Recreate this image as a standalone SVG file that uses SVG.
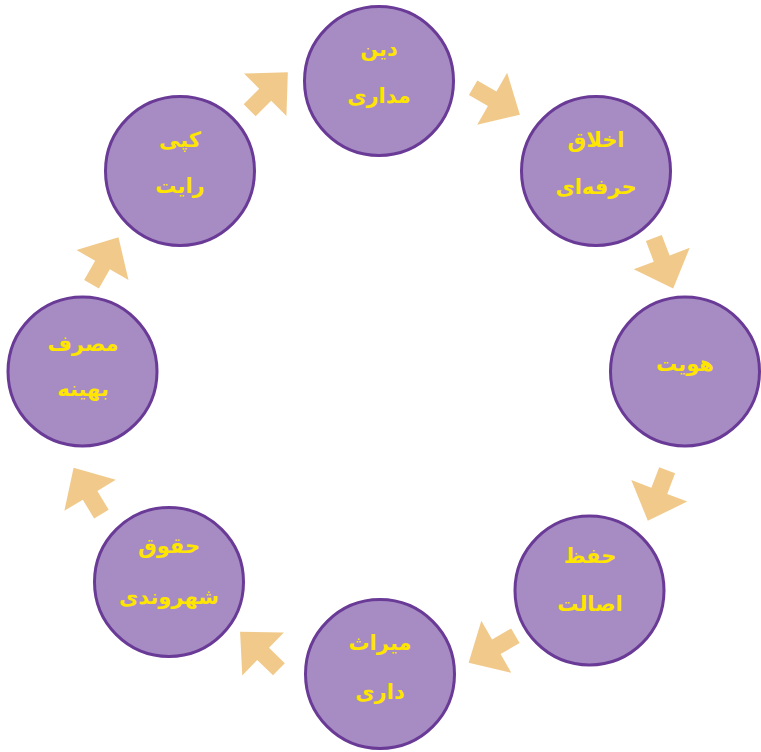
<svg xmlns="http://www.w3.org/2000/svg" width="761" height="752" viewBox="0 0 761 752">
<style>
.n{fill:#A68CC3;stroke:#6A3A97;stroke-width:3}
.t{font-family:"DejaVu Sans",sans-serif;font-weight:bold;font-size:21px;fill:#FFE500;text-anchor:middle;direction:rtl}
.a{fill:#F1CA8B}
</style>
<defs>
<polygon id="arr" points="-27,-8.5 -5,-8.5 -5,-30 27,0 -5,30 -5,8.5 -27,8.5"/>
</defs>
<rect width="761" height="752" fill="#fff"/>
<g id="connectors">
<use href="#arr" class="a" transform="translate(268.75,91.25) rotate(-45)"/>
<use href="#arr" class="a" transform="translate(496.5,101.25) rotate(30)"/>
<use href="#arr" class="a" transform="translate(663.5,263.25) rotate(69)"/>
<use href="#arr" class="a" transform="translate(657.5,495.5) rotate(111)"/>
<use href="#arr" class="a" transform="translate(492,649.25) rotate(150)"/>
<use href="#arr" class="a" transform="translate(259.5,650.5) rotate(224)"/>
<use href="#arr" class="a" transform="translate(87.5,491) rotate(239)"/>
<use href="#arr" class="a" transform="translate(105,260.75) rotate(-60)"/>
</g>
<g id="n1"><circle class="n" cx="379" cy="81" r="74.5"/><text class="t" x="379" y="56">دین</text><text class="t" x="379" y="103">مداری</text></g>
<g id="n2"><circle class="n" cx="596" cy="171" r="74.5"/><text class="t" x="596" y="147">اخلاق</text><text class="t" x="596" y="194">حرفه‌ای</text></g>
<g id="n3"><circle class="n" cx="685" cy="371.5" r="74.5"/><text class="t" x="685" y="371">هویت</text></g>
<g id="n4"><circle class="n" cx="589.5" cy="590.5" r="74.5"/><text class="t" x="590" y="563">حفظ</text><text class="t" x="590" y="611">اصالت</text></g>
<g id="n5"><circle class="n" cx="380" cy="674" r="74.5"/><text class="t" x="380" y="650">میراث</text><text class="t" x="380" y="699">داری</text></g>
<g id="n6"><circle class="n" cx="169" cy="582" r="74.5"/><text class="t" x="169" y="553">حقوق</text><text class="t" x="169" y="604">شهروندی</text></g>
<g id="n7"><circle class="n" cx="82.5" cy="371.5" r="74.5"/><text class="t" x="83" y="351">مصرف</text><text class="t" x="83" y="396">بهینه</text></g>
<g id="n8"><circle class="n" cx="180" cy="171" r="74.5"/><text class="t" x="180" y="147">کپی</text><text class="t" x="180" y="193">رایت</text></g>
</svg>
